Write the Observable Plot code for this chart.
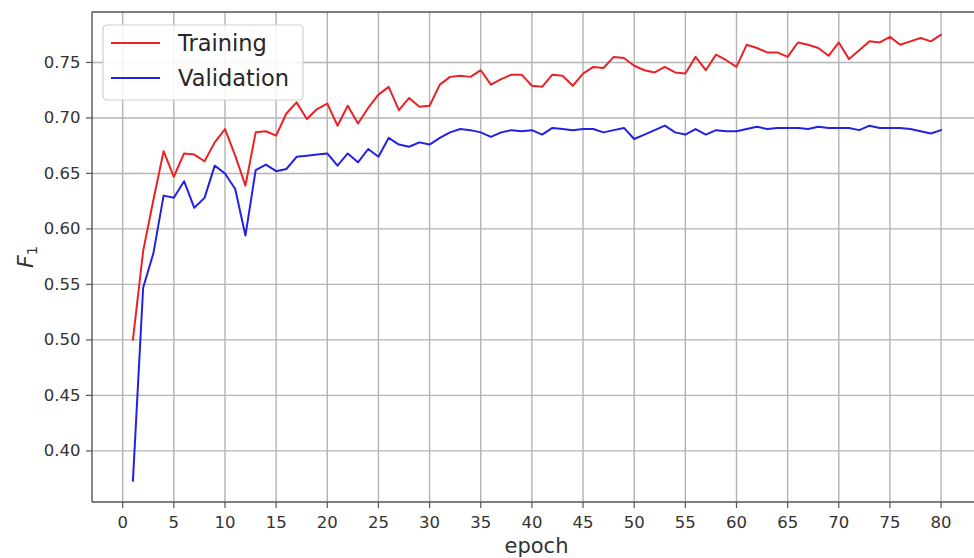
<!DOCTYPE html>
<html>
<head>
<meta charset="utf-8">
<script src="https://cdn.jsdelivr.net/npm/d3@7"></script>
<script src="https://cdn.jsdelivr.net/npm/@observablehq/plot@0.6"></script>
<style>
  html, body { margin: 0; padding: 0; background: #fff; overflow: hidden; }
  #chart { width: 974px; height: 558px; overflow: hidden; }
  #chart svg { overflow: hidden; }
</style>
</head>
<body>
<div id="chart"></div>
<script>
const epochs = [1,2,3,4,5,6,7,8,9,10,11,12,13,14,15,16,17,18,19,20,
  21,22,23,24,25,26,27,28,29,30,31,32,33,34,35,36,37,38,39,40,
  41,42,43,44,45,46,47,48,49,50,51,52,53,54,55,56,57,58,59,60,
  61,62,63,64,65,66,67,68,69,70,71,72,73,74,75,76,77,78,79,80];

const training = [0.500,0.580,0.626,0.670,0.647,0.668,0.667,0.661,0.678,0.690,
  0.666,0.639,0.687,0.688,0.684,0.704,0.714,0.699,0.708,0.713,
  0.693,0.711,0.695,0.709,0.721,0.728,0.707,0.718,0.710,0.711,
  0.730,0.737,0.738,0.737,0.743,0.730,0.735,0.739,0.739,0.729,
  0.728,0.739,0.738,0.729,0.740,0.746,0.745,0.755,0.754,0.747,
  0.743,0.741,0.746,0.741,0.740,0.755,0.743,0.757,0.752,0.746,
  0.766,0.763,0.759,0.759,0.755,0.768,0.766,0.763,0.756,0.768,
  0.753,0.761,0.769,0.768,0.773,0.766,0.769,0.772,0.769,0.775];

const validation = [0.373,0.547,0.578,0.630,0.628,0.643,0.619,0.628,0.657,0.650,
  0.636,0.594,0.653,0.658,0.652,0.654,0.665,0.666,0.667,0.668,
  0.657,0.668,0.660,0.672,0.665,0.682,0.676,0.674,0.678,0.676,
  0.682,0.687,0.690,0.689,0.687,0.683,0.687,0.689,0.688,0.689,
  0.685,0.691,0.690,0.689,0.690,0.690,0.687,0.689,0.691,0.681,
  0.685,0.689,0.693,0.687,0.685,0.690,0.685,0.689,0.688,0.688,
  0.690,0.692,0.690,0.691,0.691,0.691,0.690,0.692,0.691,0.691,
  0.691,0.689,0.693,0.691,0.691,0.691,0.690,0.688,0.686,0.689];

const seriesNames = ["Training", "Validation"];
const seriesColors = ["#ea2226", "#2222e4"];
const xTicks = [0,5,10,15,20,25,30,35,40,45,50,55,60,65,70,75,80];
const yTicks = [0.40,0.45,0.50,0.55,0.60,0.65,0.70,0.75];
const xLabel = "epoch";
const yLabelMain = "F";
const yLabelSub = "1";

const rows = [
  ...epochs.map((e, i) => ({epoch: e, f1: training[i], series: seriesNames[0]})),
  ...epochs.map((e, i) => ({epoch: e, f1: validation[i], series: seriesNames[1]}))
];

const gridStyle = {stroke: "#b4b4b4", strokeOpacity: 1, strokeWidth: 1.4};
const FONT = "'DejaVu Sans', sans-serif";

const plot = Plot.plot({
  width: 974,
  height: 558,
  marginLeft: 92,
  marginRight: -7,
  marginTop: 12,
  marginBottom: 56,
  style: {fontFamily: FONT, fontSize: "16.5px", color: "#333", background: "#fff"},
  x: {domain: [-2.95, 83.95], label: null},
  y: {domain: [0.3535, 0.795], label: null},
  color: {domain: seriesNames, range: seriesColors},
  marks: [
    Plot.gridX(xTicks, gridStyle),
    Plot.gridY(yTicks, gridStyle),
    Plot.axisX(xTicks, {tickSize: 6, tickPadding: 8, stroke: "#555", strokeWidth: 1.2, label: null, fill: "#333"}),
    Plot.axisY(yTicks, {tickSize: 6, tickPadding: 6, stroke: "#555", strokeWidth: 1.2, tickFormat: d3.format(".2f"), label: null, fill: "#333"}),
    Plot.line(rows, {x: "epoch", y: "f1", z: "series", stroke: "series", strokeWidth: 2})
  ]
});

document.getElementById("chart").appendChild(plot);

const svg = d3.select(plot);
const xs = plot.scale("x");
const ys = plot.scale("y");
const [xl, xr] = xs.range;
const [yb, ytop] = ys.range;
const cx = (xl + xr) / 2;
const cy = (yb + ytop) / 2;

// axes spines (left, top, bottom; the right one falls outside the picture)
const spines = svg.append("g").attr("stroke", "#555").attr("stroke-width", 1.4).attr("fill", "none");
spines.append("line").attr("x1", xl).attr("x2", xl).attr("y1", ytop).attr("y2", yb);
spines.append("line").attr("x1", xl).attr("x2", xr).attr("y1", ytop).attr("y2", ytop);
spines.append("line").attr("x1", xl).attr("x2", xr).attr("y1", yb).attr("y2", yb);

// x-axis title
svg.append("text")
  .attr("x", cx).attr("y", 553)
  .attr("text-anchor", "middle")
  .attr("font-family", FONT)
  .attr("font-size", 21)
  .attr("fill", "#333")
  .text(xLabel);

// y-axis title: italic F with subscript 1
const yt = svg.append("text")
  .attr("transform", `translate(33,${cy}) rotate(-90)`)
  .attr("text-anchor", "middle")
  .attr("font-family", FONT)
  .attr("font-size", 22)
  .attr("fill", "#333");
yt.append("tspan").attr("font-style", "italic").text(yLabelMain);
yt.append("tspan").attr("font-size", 14.5).attr("dy", 4).text(yLabelSub);

// legend
const lg = svg.append("g").attr("transform", "translate(103,25)");
lg.append("rect")
  .attr("width", 200).attr("height", 75).attr("rx", 4)
  .attr("fill", "#fff").attr("fill-opacity", 0.85)
  .attr("stroke", "#d0d0d0").attr("stroke-width", 1.2);
seriesNames.forEach((name, i) => {
  const yy = 18 + i * 35;
  lg.append("line")
    .attr("x1", 8).attr("x2", 57).attr("y1", yy).attr("y2", yy)
    .attr("stroke", seriesColors[i]).attr("stroke-width", 2);
  lg.append("text")
    .attr("x", 75).attr("y", yy).attr("dy", "0.36em")
    .attr("text-anchor", "start")
    .attr("font-family", FONT)
    .attr("font-size", 22.5)
    .attr("fill", "#262626")
    .text(name);
});
</script>
</body>
</html>
